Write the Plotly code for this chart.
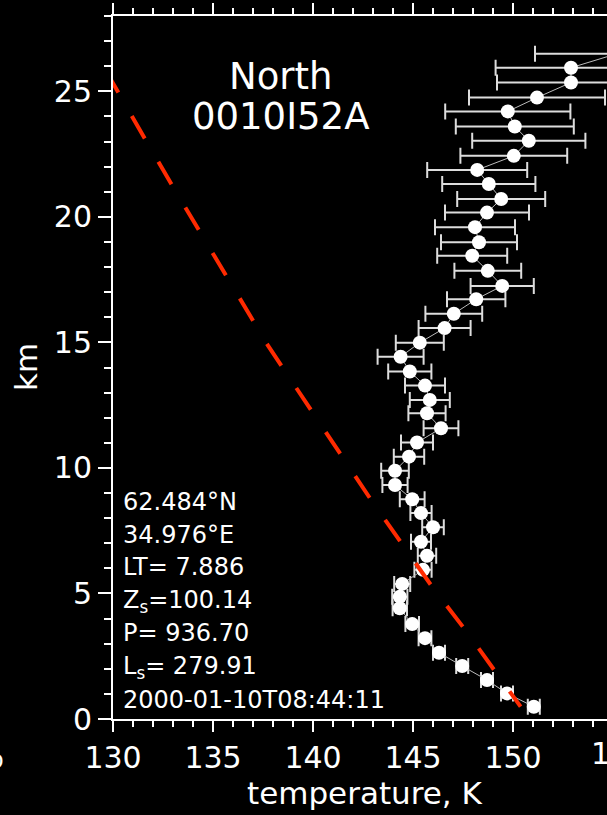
import plotly.graph_objects as go

# ---- data ----
altitude_km = [26.50, 25.94, 25.35, 24.75, 24.20, 23.60, 23.03, 22.43, 21.87, 21.31,
               20.71, 20.17, 19.59, 18.99, 18.45, 17.85, 17.25, 16.72, 16.14, 15.57,
               14.99, 14.43, 13.84, 13.28, 12.71, 12.18, 11.58, 11.01, 10.45, 9.89,
               9.32, 8.75, 8.20, 7.64, 7.06, 6.50, 5.94, 5.38, 4.87, 4.41,
               3.78, 3.22, 2.64, 2.11, 1.55, 1.02, 0.49]
temperature_K = [155.2, 152.9, 152.9, 151.2, 149.74, 150.09, 150.79, 150.04, 148.21, 148.79,
                 149.41, 148.7, 148.1, 148.3, 147.96, 148.74, 149.46, 148.16, 147.04, 146.58,
                 145.34, 144.38, 144.84, 145.6, 145.84, 145.7, 146.4, 145.2, 144.8, 144.1,
                 144.1, 144.96, 145.4, 146.0, 145.4, 145.7, 145.5, 144.46, 144.34, 144.34,
                 144.96, 145.6, 146.3, 147.46, 148.7, 149.7, 151.04]
temperature_err = [4.1, 3.77, 3.7, 3.4, 3.13, 2.95, 2.83, 2.67, 2.5, 2.33,
                   2.2, 2.1, 2.0, 1.9, 1.75, 1.67, 1.58, 1.46, 1.42, 1.3,
                   1.2, 1.15, 1.08, 1.0, 1.0, 0.93, 0.87, 0.8, 0.76, 0.69,
                   0.63, 0.62, 0.53, 0.54, 0.5, 0.46, 0.43, 0.4, 0.38, 0.36,
                   0.34, 0.32, 0.3, 0.3, 0.3, 0.3, 0.3]

# CO2 condensation curve (red dashed)
cond_T = [129.62, 129.96, 131.58, 132.96, 135.68, 137.76, 142.96, 144.51, 146.01, 147.68, 149.24, 150.38]
cond_z = [25.85, 25.39, 23.13, 21.25, 17.60, 14.86, 8.66, 6.93, 5.21, 3.48, 1.75, 0.49]

x_ticks = [130, 135, 140, 145, 150]
y_ticks = [0, 5, 10, 15, 20, 25]

title_lines = ["North", "0010I52A"]
info_lines = ["62.484°N", "34.976°E", "LT= 7.886", "Z<sub>s</sub>=100.14",
              "P= 936.70", "L<sub>s</sub>= 279.91", "2000-01-10T08:44:11"]

# ---- layout geometry ----
W, H = 607, 815
ML, MR, MT, MB = 113, 0, 16, 96
PW, PH = W - ML - MR, H - MT - MB
FONT = "DejaVu Sans, Liberation Sans, Arial"


def px(x):
    return (x - ML) / PW


def py(y):
    return (H - MB - y) / PH


fig = go.Figure()

fig.add_trace(go.Scatter(
    x=temperature_K, y=altitude_km,
    mode="lines+markers",
    line=dict(color="#bbbbbb", width=1),
    marker=dict(color="white", size=14, symbol="circle"),
    error_x=dict(type="data", array=temperature_err, symmetric=True,
                 color="#dddddd", thickness=2, width=8),
    showlegend=False, hoverinfo="skip",
))

fig.add_trace(go.Scatter(
    x=cond_T, y=cond_z, mode="lines",
    line=dict(color="#ff2a00", width=4, dash="26px,27px"),
    showlegend=False, hoverinfo="skip",
))

annotations = []
title_y = [77, 117]
for txt, yy in zip(title_lines, title_y):
    annotations.append(dict(text=txt, x=px(280), y=py(yy), xref="paper", yref="paper",
                            xanchor="center", yanchor="middle", showarrow=False,
                            font=dict(family=FONT, size=37, color="white")))
info_y = [502, 535, 567, 601, 633, 667, 700]
for txt, yy in zip(info_lines, info_y):
    annotations.append(dict(text=txt, x=px(121), y=py(yy), xref="paper", yref="paper",
                            xanchor="left", yanchor="middle", showarrow=False,
                            font=dict(family=FONT, size=24, color="white")))
# partly visible tick label at 155 beyond the right edge
annotations.append(dict(text="155", x=px(ML + 25 * 20 + 6), y=py(753), xref="paper", yref="paper",
                        xanchor="center", yanchor="middle", showarrow=False,
                        font=dict(family=FONT, size=30, color="white")))
# partly visible text fragment at the left edge
annotations.append(dict(text="o", x=px(-4), y=py(760), xref="paper", yref="paper",
                        xanchor="center", yanchor="middle", showarrow=False,
                        font=dict(family=FONT, size=24, color="white")))
# axis titles
annotations.append(dict(text="temperature, K", x=px(365), y=py(793), xref="paper", yref="paper",
                        xanchor="center", yanchor="middle", showarrow=False,
                        font=dict(family=FONT, size=31, color="white")))
annotations.append(dict(text="km", x=px(26), y=py(367), xref="paper", yref="paper",
                        xanchor="center", yanchor="middle", showarrow=False, textangle=-90,
                        font=dict(family=FONT, size=31, color="white")))

axis_common = dict(
    showgrid=False, zeroline=False, showline=True, linecolor="white", linewidth=2,
    ticks="outside", tickcolor="white", tickwidth=2,
    tickfont=dict(family=FONT, size=30, color="white"),
)

fig.update_layout(
    width=W, height=H,
    margin=dict(l=ML, r=MR, t=MT, b=MB, pad=0),
    paper_bgcolor="black", plot_bgcolor="black",
    xaxis=dict(range=[130, 130 + PW / 20], tickvals=x_ticks, ticklen=11, mirror="ticks",
               minor=dict(dtick=1, tick0=130, ticklen=6, tickwidth=1.5, tickcolor="white", ticks="outside"),
               **axis_common),
    yaxis=dict(range=[0, 28], tickvals=y_ticks, ticklen=13, mirror=False,
               minor=dict(dtick=1, tick0=0, ticklen=7, tickwidth=1.5, tickcolor="white", ticks="outside"),
               **axis_common),
    annotations=annotations,
)

fig.write_html(
    "out.html",
    config={"displayModeBar": False},
    post_script="document.body.style.margin='0';document.body.style.overflow='hidden';"
                "document.documentElement.style.overflow='hidden';document.body.style.background='black';",
)
